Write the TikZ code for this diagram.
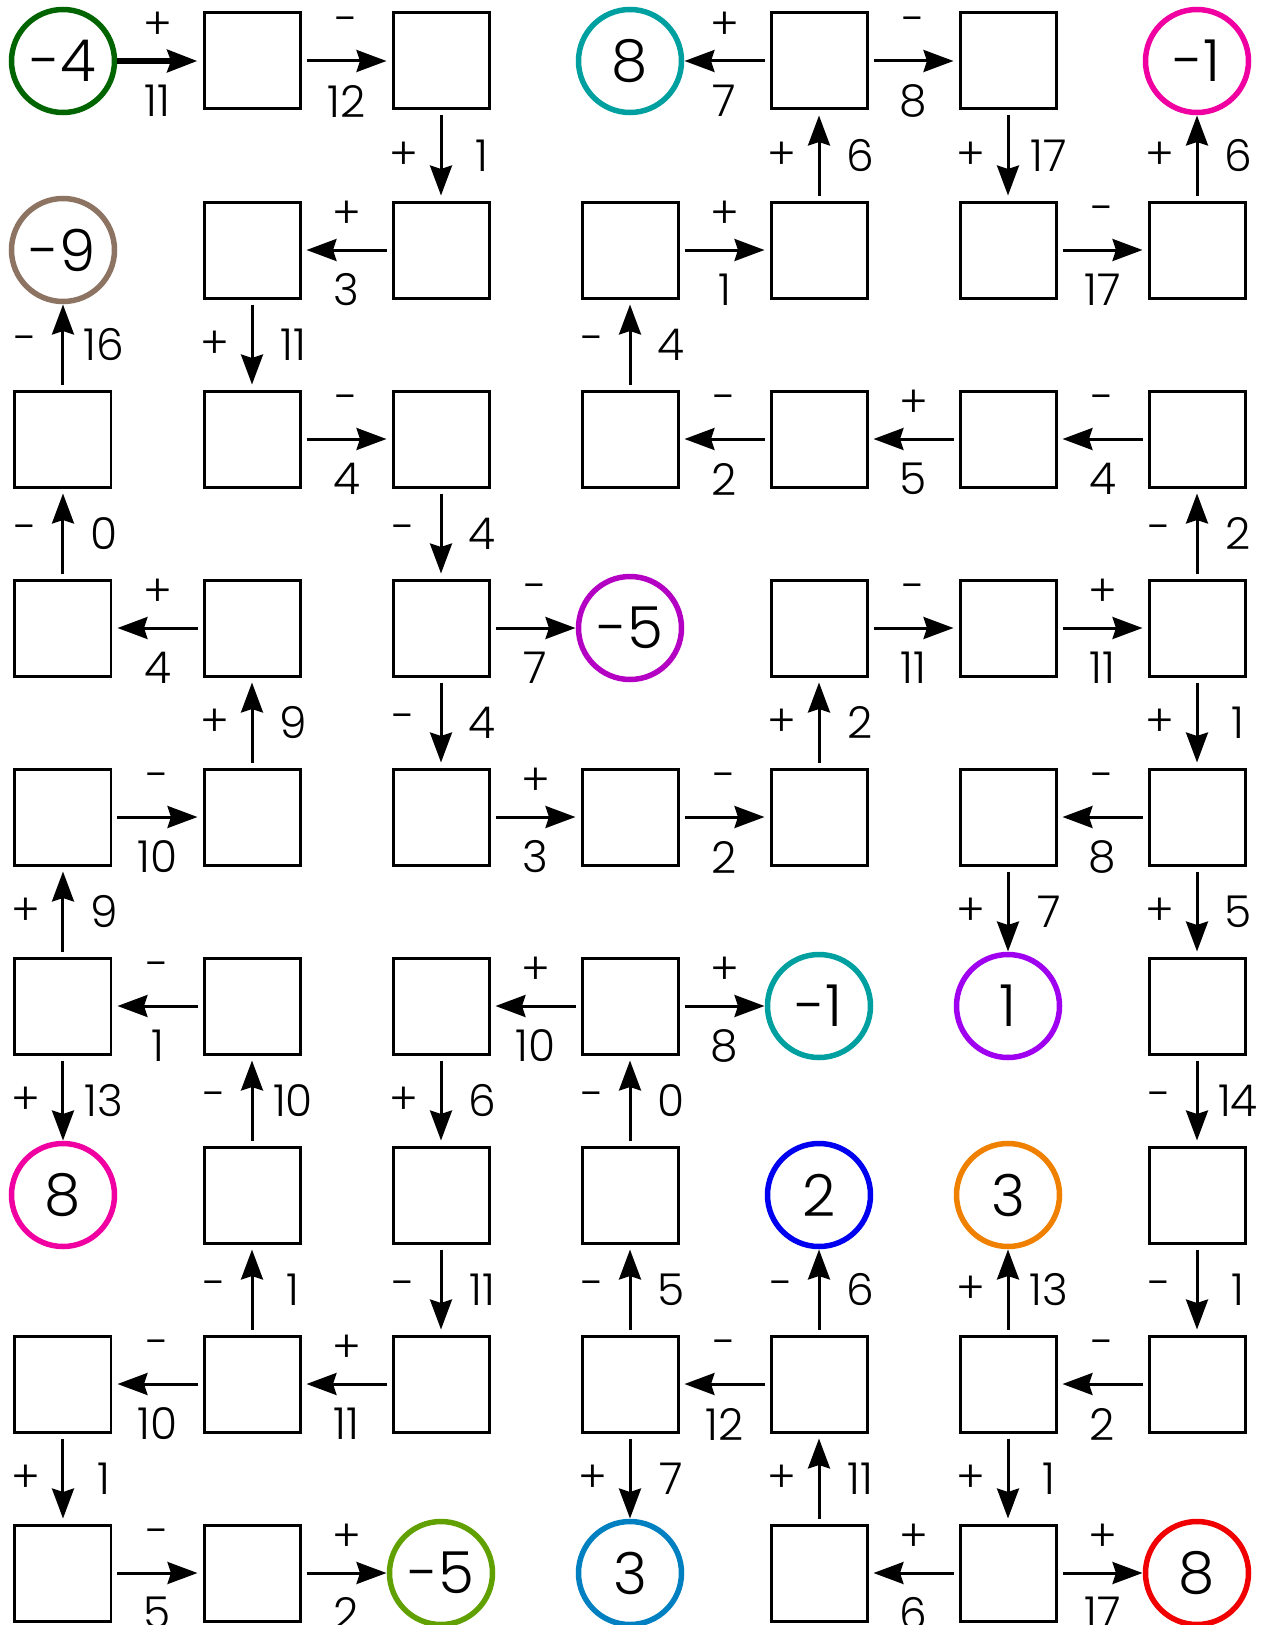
\documentclass[tikz,border=0pt]{standalone}
\usepackage{fontspec}
\setmainfont{Poppins}[UprightFont=* Light]
\usetikzlibrary{arrows.meta}

\definecolor{ringgreen}{RGB}{0,100,0}
\definecolor{ringbrown}{RGB}{140,115,98}
\definecolor{ringteal}{RGB}{0,160,160}
\definecolor{ringpink}{RGB}{240,0,160}
\definecolor{ringpurple}{RGB}{180,0,195}
\definecolor{ringviolet}{RGB}{160,0,240}
\definecolor{ringblue}{RGB}{0,0,240}
\definecolor{ringorange}{RGB}{240,128,0}
\definecolor{ringlime}{RGB}{96,160,0}
\definecolor{ringsky}{RGB}{0,128,192}
\definecolor{ringred}{RGB}{240,0,0}

\begin{document}
\begin{tikzpicture}[x=1.89cm,y=-1.89cm,
    >={Stealth[length=3mm,width=2.2mm,inset=0.35mm]},
    box/.style={draw,line width=0.03cm,minimum size=0.96cm,inner sep=0pt},
    goal/.style={circle,draw=#1,line width=0.055cm,minimum size=1.03cm,inner sep=0pt,
                 font=\fontsize{16.5}{16.5}\selectfont},
    arr/.style={->,line width=0.03cm,shorten >=5.45mm,shorten <=5.45mm,
                every node/.style={font=\fontsize{12.5}{12.5}\selectfont,inner sep=0pt}},
    sh/.style={yshift=3.5mm},
    nh/.style={yshift=-4mm},
    sv/.style={xshift=-3.7mm},
    nv/.style={xshift=4.1mm}]

  \useasboundingbox (-0.63cm,0.61cm) rectangle (12.07cm,-15.64cm);

  % row A
  \node[goal=ringgreen] (A1) at (0,0) {-4};
  \node[box] (A2) at (1,0) {};
  \node[box] (A3) at (2,0) {};
  \node[goal=ringteal] (A4) at (3,0) {8};
  \node[box] (A5) at (4,0) {};
  \node[box] (A6) at (5,0) {};
  \node[goal=ringpink] (A7) at (6,0) {-1};
  % row B
  \node[goal=ringbrown] (B1) at (0,1) {-9};
  \node[box] (B2) at (1,1) {};
  \node[box] (B3) at (2,1) {};
  \node[box] (B4) at (3,1) {};
  \node[box] (B5) at (4,1) {};
  \node[box] (B6) at (5,1) {};
  \node[box] (B7) at (6,1) {};
  % row C
  \node[box] (C1) at (0,2) {};
  \node[box] (C2) at (1,2) {};
  \node[box] (C3) at (2,2) {};
  \node[box] (C4) at (3,2) {};
  \node[box] (C5) at (4,2) {};
  \node[box] (C6) at (5,2) {};
  \node[box] (C7) at (6,2) {};
  % row D
  \node[box] (D1) at (0,3) {};
  \node[box] (D2) at (1,3) {};
  \node[box] (D3) at (2,3) {};
  \node[goal=ringpurple] (D4) at (3,3) {-5};
  \node[box] (D5) at (4,3) {};
  \node[box] (D6) at (5,3) {};
  \node[box] (D7) at (6,3) {};
  % row E
  \node[box] (E1) at (0,4) {};
  \node[box] (E2) at (1,4) {};
  \node[box] (E3) at (2,4) {};
  \node[box] (E4) at (3,4) {};
  \node[box] (E5) at (4,4) {};
  \node[box] (E6) at (5,4) {};
  \node[box] (E7) at (6,4) {};
  % row F
  \node[box] (F1) at (0,5) {};
  \node[box] (F2) at (1,5) {};
  \node[box] (F3) at (2,5) {};
  \node[box] (F4) at (3,5) {};
  \node[goal=ringteal] (F5) at (4,5) {-1};
  \node[goal=ringviolet] (F6) at (5,5) {1};
  \node[box] (F7) at (6,5) {};
  % row G
  \node[goal=ringpink] (G1) at (0,6) {8};
  \node[box] (G2) at (1,6) {};
  \node[box] (G3) at (2,6) {};
  \node[box] (G4) at (3,6) {};
  \node[goal=ringblue] (G5) at (4,6) {2};
  \node[goal=ringorange] (G6) at (5,6) {3};
  \node[box] (G7) at (6,6) {};
  % row H
  \node[box] (H1) at (0,7) {};
  \node[box] (H2) at (1,7) {};
  \node[box] (H3) at (2,7) {};
  \node[box] (H4) at (3,7) {};
  \node[box] (H5) at (4,7) {};
  \node[box] (H6) at (5,7) {};
  \node[box] (H7) at (6,7) {};
  % row I
  \node[box] (I1) at (0,8) {};
  \node[box] (I2) at (1,8) {};
  \node[goal=ringlime] (I3) at (2,8) {-5};
  \node[goal=ringsky] (I4) at (3,8) {3};
  \node[box] (I5) at (4,8) {};
  \node[box] (I6) at (5,8) {};
  \node[goal=ringred] (I7) at (6,8) {8};

  % across
  \path[arr]
    (A1.center) edge[line width=0.065cm] node[sh] {+} node[nh] {11} (A2.center)
    (A2.center) edge node[sh] {-} node[nh] {12} (A3.center)
    (A5.center) edge node[sh] {+} node[nh] {7} (A4.center)
    (A5.center) edge node[sh] {-} node[nh] {8} (A6.center)
    (B3.center) edge node[sh] {+} node[nh] {3} (B2.center)
    (B4.center) edge node[sh] {+} node[nh] {1} (B5.center)
    (B6.center) edge node[sh] {-} node[nh] {17} (B7.center)
    (C2.center) edge node[sh] {-} node[nh] {4} (C3.center)
    (C5.center) edge node[sh] {-} node[nh] {2} (C4.center)
    (C6.center) edge node[sh] {+} node[nh] {5} (C5.center)
    (C7.center) edge node[sh] {-} node[nh] {4} (C6.center)
    (D2.center) edge node[sh] {+} node[nh] {4} (D1.center)
    (D3.center) edge node[sh] {-} node[nh] {7} (D4.center)
    (D5.center) edge node[sh] {-} node[nh] {11} (D6.center)
    (D6.center) edge node[sh] {+} node[nh] {11} (D7.center)
    (E1.center) edge node[sh] {-} node[nh] {10} (E2.center)
    (E3.center) edge node[sh] {+} node[nh] {3} (E4.center)
    (E4.center) edge node[sh] {-} node[nh] {2} (E5.center)
    (E7.center) edge node[sh] {-} node[nh] {8} (E6.center)
    (F2.center) edge node[sh] {-} node[nh] {1} (F1.center)
    (F4.center) edge node[sh] {+} node[nh] {10} (F3.center)
    (F4.center) edge node[sh] {+} node[nh] {8} (F5.center)
    (H2.center) edge node[sh] {-} node[nh] {10} (H1.center)
    (H3.center) edge node[sh] {+} node[nh] {11} (H2.center)
    (H5.center) edge node[sh] {-} node[nh] {12} (H4.center)
    (H7.center) edge node[sh] {-} node[nh] {2} (H6.center)
    (I1.center) edge node[sh] {-} node[nh] {5} (I2.center)
    (I2.center) edge node[sh] {+} node[nh] {2} (I3.center)
    (I6.center) edge node[sh] {+} node[nh] {6} (I5.center)
    (I6.center) edge node[sh] {+} node[nh] {17} (I7.center);

  % up and down
  \path[arr]
    (A3.center) edge node[sv] {+} node[nv] {1} (B3.center)
    (B5.center) edge node[sv] {+} node[nv] {6} (A5.center)
    (A6.center) edge node[sv] {+} node[nv] {17} (B6.center)
    (B7.center) edge node[sv] {+} node[nv] {6} (A7.center)
    (C1.center) edge node[sv] {-} node[nv] {16} (B1.center)
    (B2.center) edge node[sv] {+} node[nv] {11} (C2.center)
    (C4.center) edge node[sv] {-} node[nv] {4} (B4.center)
    (D1.center) edge node[sv] {-} node[nv] {0} (C1.center)
    (C3.center) edge node[sv] {-} node[nv] {4} (D3.center)
    (D7.center) edge node[sv] {-} node[nv] {2} (C7.center)
    (E2.center) edge node[sv] {+} node[nv] {9} (D2.center)
    (D3.center) edge node[sv] {-} node[nv] {4} (E3.center)
    (E5.center) edge node[sv] {+} node[nv] {2} (D5.center)
    (D7.center) edge node[sv] {+} node[nv] {1} (E7.center)
    (F1.center) edge node[sv] {+} node[nv] {9} (E1.center)
    (E6.center) edge node[sv] {+} node[nv] {7} (F6.center)
    (E7.center) edge node[sv] {+} node[nv] {5} (F7.center)
    (F1.center) edge node[sv] {+} node[nv] {13} (G1.center)
    (G2.center) edge node[sv] {-} node[nv] {10} (F2.center)
    (F3.center) edge node[sv] {+} node[nv] {6} (G3.center)
    (G4.center) edge node[sv] {-} node[nv] {0} (F4.center)
    (F7.center) edge node[sv] {-} node[nv] {14} (G7.center)
    (H2.center) edge node[sv] {-} node[nv] {1} (G2.center)
    (G3.center) edge node[sv] {-} node[nv] {11} (H3.center)
    (H4.center) edge node[sv] {-} node[nv] {5} (G4.center)
    (H5.center) edge node[sv] {-} node[nv] {6} (G5.center)
    (H6.center) edge node[sv] {+} node[nv] {13} (G6.center)
    (G7.center) edge node[sv] {-} node[nv] {1} (H7.center)
    (H1.center) edge node[sv] {+} node[nv] {1} (I1.center)
    (H4.center) edge node[sv] {+} node[nv] {7} (I4.center)
    (I5.center) edge node[sv] {+} node[nv] {11} (H5.center)
    (H6.center) edge node[sv] {+} node[nv] {1} (I6.center);

\end{tikzpicture}
\end{document}
